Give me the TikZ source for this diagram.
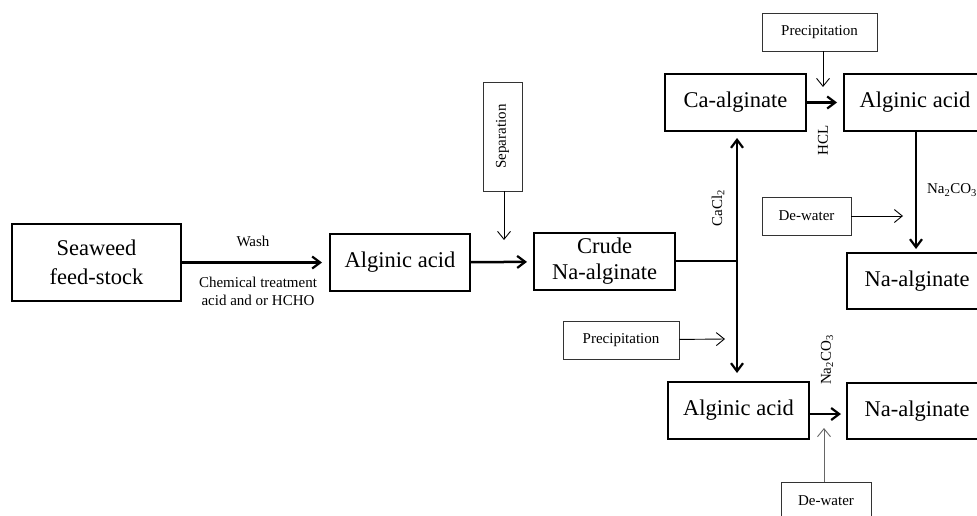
\documentclass[tikz,border=0pt]{standalone}
\usepackage{fontspec}
\setmainfont{Liberation Serif}
\usetikzlibrary{arrows.meta,positioning}
\tikzset{
  caja/.style     = {draw, line width=2pt, align=center, inner sep=0pt,
                     font=\fontsize{22.5}{26}\selectfont,
                     minimum width=141pt, minimum height=57pt},
  etiqueta/.style = {draw=black!80, line width=0.9pt, align=center, inner sep=0pt,
                     font=\fontsize{15}{18}\selectfont,
                     minimum width=115pt, minimum height=38pt},
  flecha/.style   = {-{Straight Barb[length=8pt,width=12pt,line width=2.2pt]},
                     line width=2.5pt, shorten >=5pt},
  flechaf/.style  = {-{Straight Barb[length=8pt,width=13pt]}, line width=0.9pt},
  lbl/.style      = {font=\fontsize{15}{18}\selectfont, inner sep=0pt, align=center},
}
\begin{document}
\begin{tikzpicture}[x=1pt,y=-1pt]
  \useasboundingbox (0,0) rectangle (977,515);
  \clip (0,0) rectangle (977,515);
  % cajas principales
  \node[caja, minimum width=169pt, minimum height=77pt,
        font=\fontsize{22.5}{29}\selectfont] (seaweed) at (96.5,262.5) {Seaweed\\feed-stock};
  \node[caja, minimum width=140pt] (alg1)  at (400,262.5)   {Alginic acid};
  \node[caja] (crude) at (604.5,261.5) {Crude\\Na-alginate};
  \node[caja] (caalg) at (735.5,102.5) {Ca-alginate};
  \node[caja, minimum width=142pt] (alg2)  at (915,102.5)   {Alginic acid};
  \node[caja, minimum width=140pt, minimum height=56pt] (na2) at (917,281) {Na-alginate};
  \node[caja] (alg3)  at (738.5,410.5) {Alginic acid};
  \node[caja, minimum width=140pt, minimum height=56pt] (na3) at (917,411) {Na-alginate};
  % cajas auxiliares
  \node[etiqueta, minimum width=39pt, minimum height=109pt] (sep) at (502.5,136.5)
       {\rotatebox{90}{Separation}};
  \node[etiqueta] (prec1) at (819.5,32) {Precipitation};
  \node[etiqueta, minimum width=89pt] (dw1) at (806.5,216) {De-water};
  \node[etiqueta, minimum width=116pt] (prec2) at (621,340) {Precipitation};
  \node[etiqueta, minimum width=90pt] (dw2) at (826,501) {De-water};
  % textos
  \node[lbl] (wash) at (253,241) {Wash};
  \node[lbl, font=\fontsize{15}{18}\selectfont] (chem) at (258,291)
       {Chemical treatment\\acid and or HCHO};
  \node[lbl, rotate=90] (cacl) at (718,208) {CaCl\textsubscript{2}};
  \node[lbl, rotate=90] (hcl) at (823,140) {HCL};
  \node[lbl] (naco1) at (952,190) {Na\textsubscript{2}CO\textsubscript{3}};
  \node[lbl, rotate=90] (naco2) at (827,360) {Na\textsubscript{2}CO\textsubscript{3}};
  % puntos auxiliares
  \coordinate (split) at (737,261);
  \coordinate (sepend) at (504,240);
  \coordinate (prec1end) at (823,87);
  \coordinate (dw1end) at (903,216);
  \coordinate (prec2end) at (725,339);
  \coordinate (dw2end) at (824,428);
  % flechas
  \draw[flecha, shorten >=7pt] (seaweed) -- (alg1);
  \draw[flecha, shorten >=6pt] (alg1) -- (crude);
  \draw[line width=2.5pt] (crude.east |- split) -- (split);
  \draw[flecha, shorten >=6pt] (split) -- (caalg.south -| split);
  \draw[flecha, shorten >=8pt] (split) -- (alg3.north -| split);
  \draw[flecha, shorten >=6pt] (caalg) -- (alg2);
  \draw[flecha, shorten >=3pt] (alg2.south -| 916,0) -- (na2.north -| 916,0);
  \draw[flecha] (alg3.east |- 0,414) -- (na3.west |- 0,414);
  \draw[flechaf] (sep.south -| sepend) -- (sepend);
  \draw[flechaf] (prec1.south -| prec1end) -- (prec1end);
  \draw[flechaf] (dw1) -- (dw1end);
  \draw[flechaf] (prec2) -- (prec2end);
  \draw[flechaf, black!60] (dw2.north -| dw2end) -- (dw2end);
\end{tikzpicture}
\end{document}
